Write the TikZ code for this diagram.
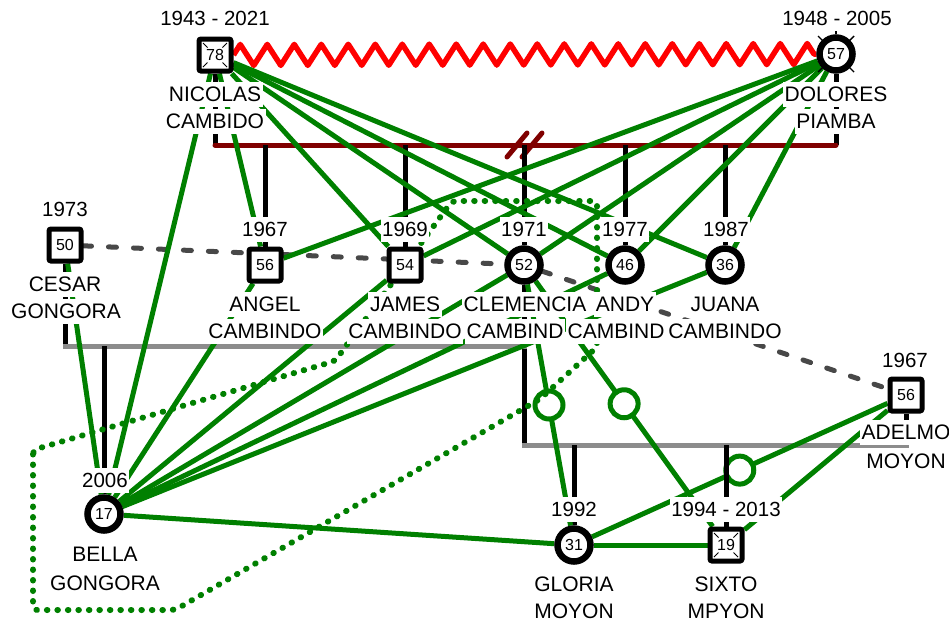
\documentclass[tikz,border=0pt]{standalone}
\usepackage{fontspec}
\setmainfont{Liberation Sans}
\usetikzlibrary{decorations.pathmorphing,calc}
\definecolor{relgreen}{HTML}{008000}
\definecolor{maroonline}{HTML}{800000}
\definecolor{unigray}{HTML}{8C8C8C}
\definecolor{dashgray}{HTML}{484848}
\pgfdeclarelayer{bg}
\pgfsetlayers{bg,main}
\tikzset{
  person/.style={draw=black, line width=5pt, fill=white, inner sep=0pt, font=\fontsize{16}{16}\selectfont},
  male/.style={person, rectangle, rounded corners=2pt, minimum size=32pt},
  female/.style={person, circle, line width=6.5pt, minimum size=33pt},
  lbl/.style={fill=white, inner xsep=1.5pt, inner ysep=0pt, text height=15pt, text depth=0pt, minimum height=25pt, font=\fontsize{21}{21}\selectfont},
  lblb/.style={lbl, minimum height=17pt},
  yr/.style={lbl, font=\fontsize{20.5}{20.5}\selectfont},
  rel/.style={draw=relgreen, line width=5pt},
  kin/.style={draw=black, line width=5pt},
  marline/.style={draw=maroonline, line width=5pt, line cap=round},
  uline/.style={draw=unigray, line width=5pt, line cap=rect},
  dsh/.style={draw=dashgray, line width=5pt, line cap=round, dash pattern=on 8pt off 17pt},
  dots/.style={draw=relgreen, line width=6pt, line cap=round, dash pattern=on 0.5pt off 10pt, rounded corners=4pt},
  ring/.style={circle, draw=relgreen, line width=5pt, fill=white, minimum size=28pt, inner sep=0pt},
  zz/.style={draw=red, line width=5.5pt, line join=round, decorate, decoration={zigzag, segment length=27pt, amplitude=10.5pt}},
  dtick/.style={draw=black, line width=0.9pt}
}
\begin{document}
\begin{tikzpicture}[x=1pt,y=-1pt]
\useasboundingbox (0,0) rectangle (949,622);
% persons
\node[male]   (nic)  at (215,55)  {78};
\node[female] (dol)  at (836,54)  {57};
\node[male]   (ces)  at (65,245)  {50};
\node[male]   (ang)  at (265,265) {56};
\node[male]   (jam)  at (405,265) {54};
\node[female] (cle)  at (524,265) {52};
\node[female] (andy) at (625,265) {46};
\node[female] (jua)  at (725,265) {36};
\node[male]   (ade)  at (906,395) {56};
\node[female] (bel)  at (104,514) {17};
\node[female] (glo)  at (574,545) {31};
\node[male]   (six)  at (726,545) {19};
% union line reference coordinates
\coordinate (m)  at (0,145);
\coordinate (g1) at (0,346);
\coordinate (g2) at (0,445);
\begin{pgfonlayer}{bg}
  \fill[white] (0,0) rectangle (949,622);
  % marriage Nicolas - Dolores
  \draw[kin] (nic) -- (nic |- m);
  \draw[kin] (dol) -- (dol |- m);
  \draw[marline] (nic |- m) -- (dol |- m);
  \draw[marline] (507,157) -- (527,133);
  \draw[marline] (522,157) -- (542,133);
  \foreach \c in {ang,jam,cle,andy,jua} \draw[kin] (\c) -- (\c |- m);
  % union Cesar - Clemencia
  \draw[kin] (ces) -- (ces |- g1);
  \draw[kin] (cle) -- (cle |- g2);
  \draw[uline] (ces |- g1) -- (cle |- g1);
  \draw[kin] (bel) -- (bel |- g1);
  % union Clemencia - Adelmo
  \draw[kin] (ade) -- (ade |- g2);
  \draw[uline] (cle |- g2) -- (ade |- g2);
  \draw[kin] (glo) -- (glo |- g2);
  % dashed partner lines
  \draw[dsh] (ces) -- (cle);
  \draw[dsh] (cle) -- (ade);
  % conflict
  \draw[zz] (nic) -- (dol);
  % green relations
  \foreach \a/\b in {nic/bel,nic/ang,nic/jam,nic/cle,nic/andy,nic/jua,
                     dol/ang,dol/jam,dol/cle,dol/andy,dol/jua,
                     bel/ces,bel/ang,bel/jam,bel/cle,bel/andy,bel/jua,bel/glo,
                     glo/six,six/ade}
    \draw[rel] (\a) -- (\b);
  \draw[rel] (cle) -- node[ring] (r1) {} (glo);
  \draw[rel] (cle) -- node[ring] (r2) {} (six);
  \draw[rel] (glo) -- node[ring] (r3) {} (ade);
  \draw[kin] (six) -- (six |- g2);
  % dotted boundary
  \draw[dots] (33,450) -- (33,610) -- (175,610) -- (540,399) -- (597,347)
              -- (597,201) -- (452,201) -- (335,361) -- cycle;
\end{pgfonlayer}
% deceased marks
\foreach \p in {nic,six}
  \foreach \sx/\sy in {1/1,1/-1,-1/1,-1/-1}
    \draw[dtick] ($(\p)+(12*\sx,12*\sy)$) -- ($(\p)+(7.5*\sx,7.5*\sy)$);
\foreach \sx/\sy in {1/1,1/-1,-1/1,-1/-1}
  \draw[dtick, line width=1.4pt] ($(dol)+(12.5*\sx,12.5*\sy)$) -- ($(dol)+(18*\sx,18*\sy)$);
\draw[draw=black, line width=1.4pt] (dol.north) -- ++(0,-3);
% labels
\node[yr]  (nicY)  at (215,18)  {1943 - 2021};
\node[lbl] (nicN1) at (215,94)  {NICOLAS};
\node[lbl] (nicN2) at (215,121) {CAMBIDO};
\node[yr]  (dolY)  at (837,18)  {1948 - 2005};
\node[lbl] (dolN1) at (836,94)  {DOLORES};
\node[lbl] (dolN2) at (836,121) {PIAMBA};
\node[yr]  (cesY)  at (65,209)  {1973};
\node[lbl] (cesN1) at (65,284)  {CESAR};
\node[lbl] (cesN2) at (66,311)  {GONGORA};
\node[yr]  (angY)  at (265,229) {1967};
\node[lbl] (angN1) at (265,304) {ANGEL};
\node[lbl] (angN2) at (265,331) {CAMBINDO};
\node[yr]  (jamY)  at (405,229) {1969};
\node[lbl] (jamN1) at (405,304) {JAMES};
\node[lbl] (jamN2) at (405,331) {CAMBINDO};
\node[yr]  (cleY)  at (524,229) {1971};
\node[lbl] (cleN1) at (525,304) {CLEMENCIA};
\node[lbl, anchor=west] (cleN2) at (465,331) {CAMBIND};
\node[yr]  (andY)  at (625,229) {1977};
\node[lbl] (andN1) at (625,304) {ANDY};
\node[lbl, anchor=west] (andN2) at (566,331) {CAMBIND};
\node[yr]  (juaY)  at (726,229) {1987};
\node[lbl] (juaN1) at (725,304) {JUANA};
\node[lbl] (juaN2) at (725,331) {CAMBINDO};
\node[yr]  (adeY)  at (905,360) {1967};
\node[lbl] (adeN1) at (906,432) {ADELMO};
\node[lbl] (adeN2) at (906,461) {MOYON};
\node[yr]  (belY)  at (105,480) {2006};
\node[lbl] (belN1) at (105,554) {BELLA};
\node[lbl] (belN2) at (105,583) {GONGORA};
\node[yr]  (gloY)  at (574,509) {1992};
\node[lbl] (gloN1) at (574,584) {GLORIA};
\node[lblb] (gloN2) at (574,611) {MOYON};
\node[yr]  (sixY)  at (726,509) {1994 - 2013};
\node[lbl] (sixN1) at (726,584) {SIXTO};
\node[lblb] (sixN2) at (726,611) {MPYON};
\end{tikzpicture}
\end{document}
